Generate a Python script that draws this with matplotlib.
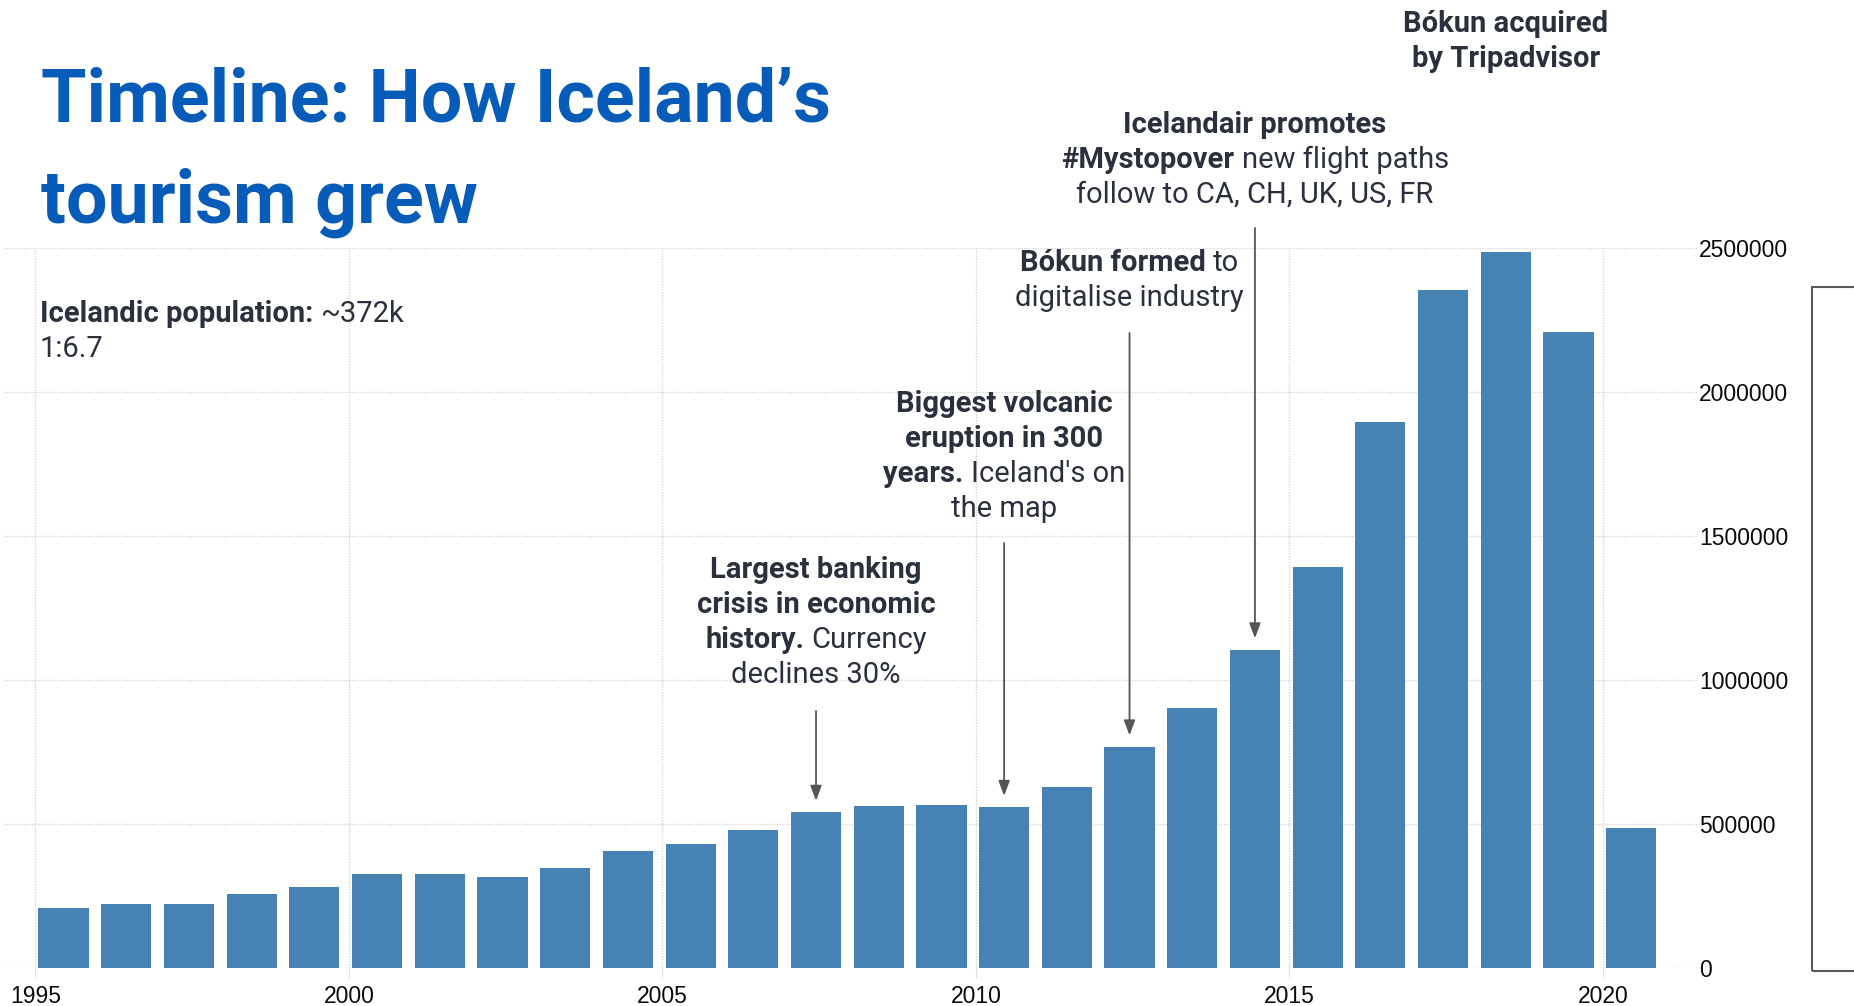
import matplotlib
matplotlib.use("Agg")
import matplotlib.pyplot as plt
from matplotlib.patches import Rectangle
from matplotlib.transforms import IdentityTransform

# visitors to Iceland per year
years = list(range(1995, 2021))
visitors = [210000, 223000, 223000, 257000, 283000, 328000, 328000, 316000,
            348000, 407000, 433000, 479000, 542000, 564000, 567000, 559000,
            630000, 769000, 905000, 1106000, 1394000, 1896000, 2355000,
            2488000, 2208000, 488000]

tick_years = [1995, 2000, 2005, 2010, 2015, 2020]
y_ticks = [0, 500000, 1000000, 1500000, 2000000, 2500000]

title_lines = ["Timeline: How Iceland’s", "tourism grew"]

# each note: the year it points at, lines made of (text, bold) pieces
note_years = [2007, 2010, 2012, 2014, 2018]
note_lines = [
    [[("Largest banking", True)], [("crisis in economic", True)],
     [("history.", True), (" Currency", False)], [("declines 30%", False)]],
    [[("Biggest volcanic", True)], [("eruption in 300", True)],
     [("years.", True), (" Iceland's on", False)], [("the map", False)]],
    [[("Bókun formed", True), (" to", False)], [("digitalise industry", False)]],
    [[("Icelandair promotes", True)],
     [("#Mystopover", True), (" new flight paths", False)],
     [("follow to CA, CH, UK, US, FR", False)]],
    [[("Bókun acquired", True)], [("by Tripadvisor", True)]],
]
population_lines = [[("Icelandic population:", True), (" ~372k", False)],
                    [("1:6.7", False)]]

# layout, image pixels measured from the top
note_baseline = [578, 412, 271, 133, 32]
arrow_start = [711, 543, 333, 228, 95]

W, H = 1854, 1006
FS = 21
LS = 35
TXT = "#2a313c"
PIX = IdentityTransform()

fig = plt.figure(figsize=(W / 100, H / 100), dpi=100)
ax = fig.add_axes([4 / W, (H - 968.3) / H, 1693 / W, 720 / H])

ax.bar([y + 0.05 for y in years], visitors, width=0.8, align="edge",
       color="#4682b4", zorder=2)
ax.set_xlim(1994.5, 2021.5)
ax.set_ylim(0, 2500000)
for s in ax.spines.values():
    s.set_visible(False)

ax.set_xticks(tick_years)
ax.set_yticks(y_ticks)
ax.set_yticklabels([str(v) for v in y_ticks])
ax.yaxis.tick_right()
ax.tick_params(axis="y", length=0, pad=1.5, labelsize=16.5, labelcolor="#0a0a0a")
ax.tick_params(axis="x", length=7, width=0.8, color="#dddddd", pad=5,
               labelsize=16.5, labelcolor="#0a0a0a")
for lbl in ax.get_xticklabels() + ax.get_yticklabels():
    lbl.set_fontfamily("Liberation Sans")
ax.grid(True, color="#d6d6d6", linestyle=(0, (1, 1)), linewidth=1)
ax.set_axisbelow(True)

renderer = fig.canvas.get_renderer()


def width_of(t, bold):
    tx = fig.text(0, 0, t, fontsize=FS, family="Roboto",
                  weight="bold" if bold else "normal")
    w = tx.get_window_extent(renderer).width
    tx.remove()
    return w


def advance(s, bold):
    return width_of("I" + s + "I", bold) - width_of("II", bold)


def rich_text(lines, x, y0, centered=True):
    for i, line in enumerate(lines):
        widths = [advance(s, b) for s, b in line]
        left = x - sum(widths) / 2 if centered else x
        for (s, b), wd in zip(line, widths):
            lead = len(s) - len(s.lstrip(" "))
            off = advance(" " * lead, b) if lead else 0
            fig.text(left + off, H - (y0 + i * LS), s.strip(), transform=PIX,
                     fontsize=FS, family="Roboto", color=TXT, va="baseline",
                     weight="bold" if b else "normal")
            left += wd


for yr, lines, base, start in zip(note_years, note_lines, note_baseline, arrow_start):
    bx = yr + 0.45
    val = visitors[years.index(yr)]
    ax.annotate("", xy=(bx, val + 40000), xycoords="data",
                xytext=(bx, H - start), textcoords=("data", "figure pixels"),
                arrowprops=dict(arrowstyle="-|>,head_length=0.45,head_width=0.17",
                                color="#555555", lw=1.3, shrinkA=0, shrinkB=0,
                                mutation_scale=20))
    cx = ax.transData.transform((bx, 0))[0]
    rich_text(lines, cx, base)

rich_text(population_lines, 40, 322, centered=False)

for i, line in enumerate(title_lines):
    fig.text(41, H - (121 + i * 102), line, transform=PIX, fontsize=53,
             family="Roboto", weight="bold", color="#075cb9", va="baseline")

fig.add_artist(Rectangle((1812, H - 971), 100, 684, transform=PIX, fill=False,
                         edgecolor="#5a5a5a", lw=1.5))

fig.savefig("out.png", dpi=100, facecolor="white")
